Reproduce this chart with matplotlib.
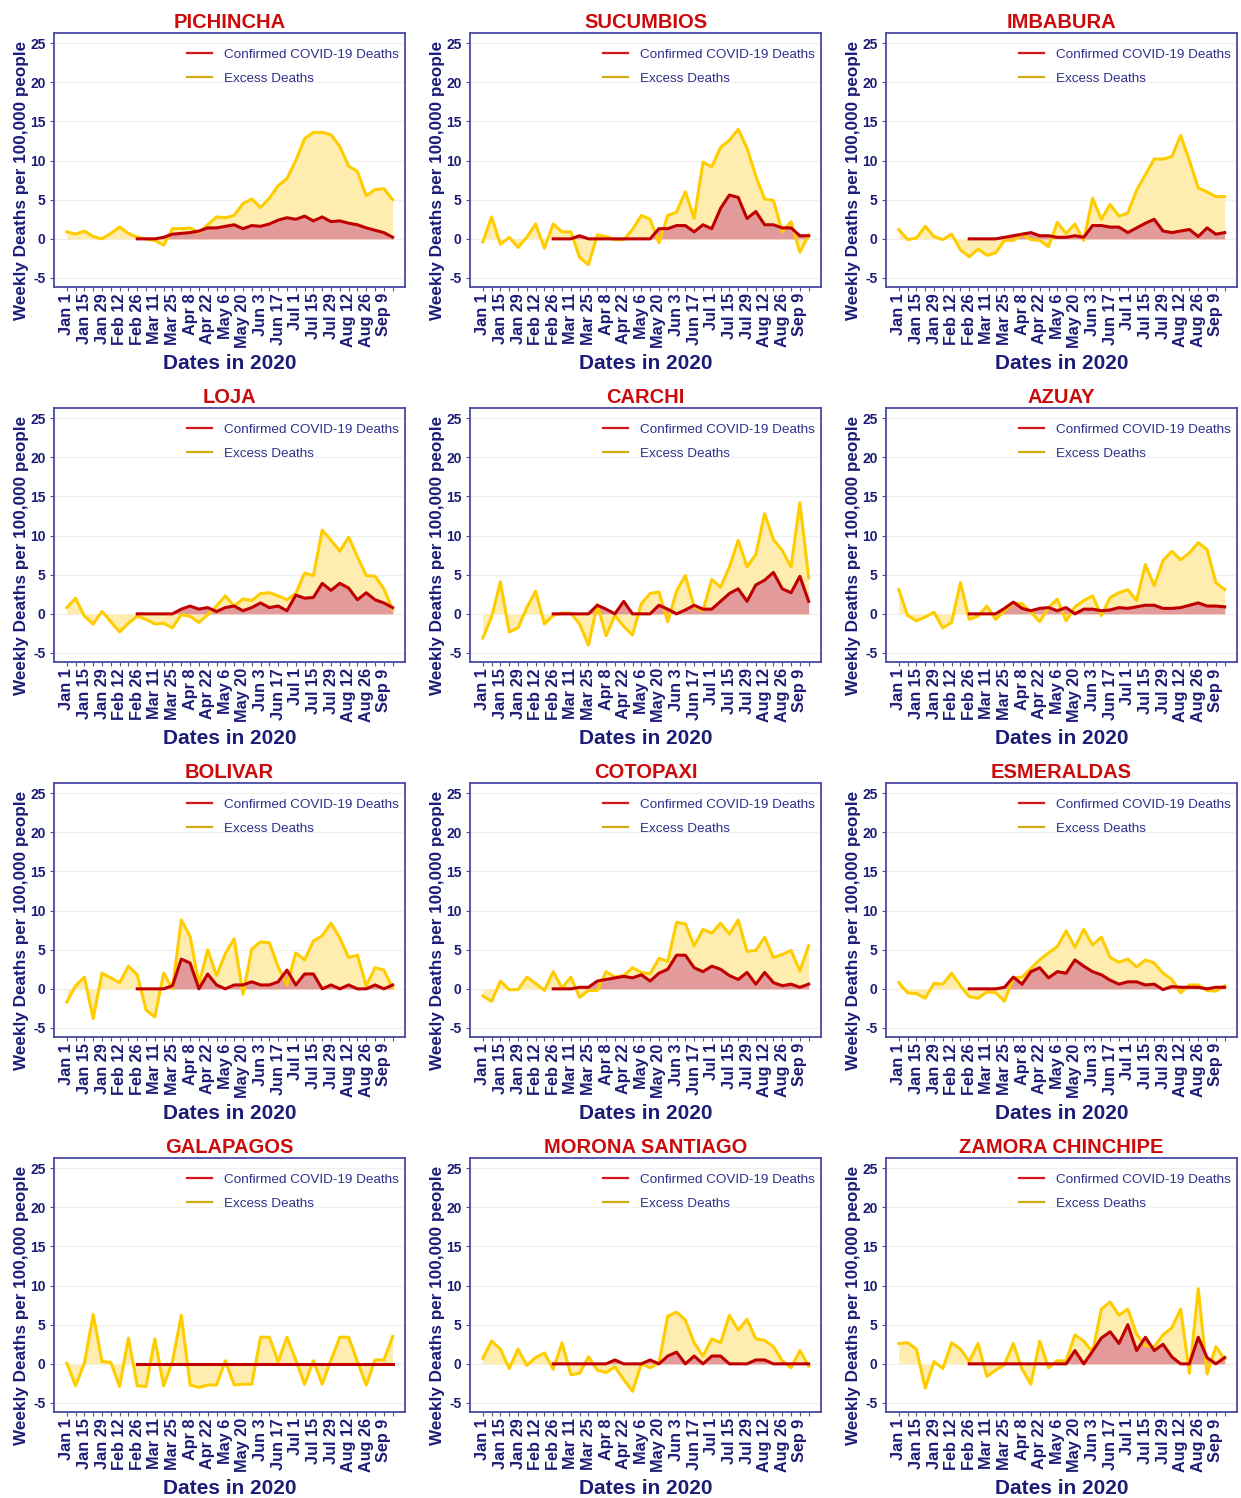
import matplotlib
matplotlib.use("Agg")
import matplotlib.pyplot as plt
from matplotlib.lines import Line2D
import numpy as np

plt.rcParams["font.family"] = ["Liberation Sans", "DejaVu Sans"]

# Weekly x-axis labels (every second week is labelled)
week_labels = ["Jan 1", "Jan 15", "Jan 29", "Feb 12", "Feb 26", "Mar 11", "Mar 25",
               "Apr 8", "Apr 22", "May 6", "May 20", "Jun 3", "Jun 17", "Jul 1",
               "Jul 15", "Jul 29", "Aug 12", "Aug 26", "Sep 9"]
n_weeks = 38          # Jan 1 .. Sep 16, weekly
first_confirmed = 8   # confirmed series starts on Feb 26

provinces = ["PICHINCHA", "SUCUMBIOS", "IMBABURA",
             "LOJA", "CARCHI", "AZUAY",
             "BOLIVAR", "COTOPAXI", "ESMERALDAS",
             "GALAPAGOS", "MORONA SANTIAGO", "ZAMORA CHINCHIPE"]

# Excess deaths per 100,000 (Jan 1 .. Sep 16)
excess_pichincha = [0.9, 0.6, 1.0, 0.3, 0.0, 0.7, 1.5, 0.7, 0.2, 0.0, -0.2, -0.8, 1.3, 1.3,
                    1.4, 0.8, 1.8, 2.8, 2.7, 3.0, 4.5, 5.1, 4.0, 5.2, 6.8, 7.7, 10.0, 12.8,
                    13.6, 13.6, 13.3, 11.8, 9.3, 8.6, 5.5, 6.3, 6.4, 5.0]
excess_sucumbios = [-0.4, 2.8, -0.7, 0.2, -1.1, 0.2, 1.9, -1.2, 1.9, 0.9, 0.9, -2.4, -3.3, 0.5,
                    0.3, -0.1, -0.1, 1.2, 3.0, 2.5, -0.5, 3.0, 3.4, 6.0, 2.6, 9.8, 9.2, 11.7,
                    12.6, 14.0, 11.6, 8.0, 5.1, 4.9, 0.9, 2.2, -1.7, 0.5]
excess_imbabura = [1.2, -0.1, 0.1, 1.6, 0.3, -0.1, 0.6, -1.4, -2.3, -1.3, -2.1, -1.8, -0.2, -0.2,
                   0.6, -0.1, -0.2, -1.0, 2.1, 0.7, 1.9, -0.2, 5.2, 2.5, 4.4, 2.9, 3.3, 6.2,
                   8.2, 10.2, 10.2, 10.5, 13.2, 10.0, 6.5, 6.0, 5.4, 5.4]
excess_loja = [0.8, 2.0, -0.3, -1.3, 0.3, -1.0, -2.3, -1.2, -0.3, -0.7, -1.3, -1.2, -1.8, -0.1,
               -0.3, -1.1, -0.1, 1.0, 2.3, 1.0, 1.9, 1.7, 2.6, 2.7, 2.3, 1.8, 2.6, 5.2,
               4.9, 10.7, 9.4, 8.0, 9.8, 7.3, 4.9, 4.8, 3.2, 0.5]
excess_carchi = [-3.1, -0.4, 4.1, -2.3, -1.8, 0.8, 2.9, -1.3, -0.2, 0.1, 0.1, -1.3, -4.0, 1.2,
                 -2.8, -0.2, -1.6, -2.7, 1.3, 2.6, 2.8, -1.0, 2.9, 4.9, 0.9, 0.4, 4.4, 3.4,
                 6.0, 9.4, 6.0, 7.6, 12.8, 9.5, 8.1, 6.0, 14.2, 4.6]
excess_azuay = [3.1, -0.2, -0.9, -0.4, 0.2, -1.8, -1.1, 4.0, -0.7, -0.3, 1.0, -0.7, 0.4, 1.4,
                1.3, 0.2, -1.0, 0.8, 1.9, -0.9, 0.9, 1.7, 2.3, -0.2, 2.1, 2.7, 3.1, 1.7,
                6.3, 3.6, 6.8, 8.0, 6.9, 7.8, 9.1, 8.2, 4.0, 3.1]
excess_bolivar = [-1.7, 0.4, 1.5, -3.8, 2.0, 1.4, 0.8, 2.9, 1.8, -2.7, -3.6, 2.0, 0.0, 8.8,
                  6.7, 0.6, 5.0, 1.7, 4.5, 6.4, -0.7, 5.1, 6.0, 5.9, 2.8, 0.5, 4.6, 3.7,
                  6.1, 6.8, 8.4, 6.5, 4.0, 4.3, 0.4, 2.7, 2.4, 0.1]
excess_cotopaxi = [-0.9, -1.6, 1.0, -0.1, -0.1, 1.5, 0.7, -0.2, 2.2, 0.1, 1.5, -1.1, -0.2, -0.2,
                   2.2, 1.5, 1.7, 2.7, 2.1, 1.9, 3.9, 3.5, 8.5, 8.3, 5.5, 7.6, 7.1, 8.4,
                   7.0, 8.8, 4.8, 4.9, 6.6, 4.0, 4.4, 4.9, 2.3, 5.5]
excess_esmeraldas = [0.8, -0.5, -0.6, -1.2, 0.7, 0.6, 2.0, 0.4, -1.0, -1.2, -0.4, -0.5, -1.6, 1.4,
                     1.5, 2.6, 3.7, 4.6, 5.4, 7.4, 5.3, 7.6, 5.6, 6.6, 4.0, 3.4, 3.8, 2.8,
                     3.7, 3.3, 2.0, 1.2, -0.5, 0.5, 0.5, -0.2, -0.3, 0.4]
excess_galapagos = [0.1, -2.8, 0.1, 6.3, 0.3, 0.2, -2.9, 3.3, -2.8, -2.9, 3.2, -2.8, 0.3, 6.2,
                    -2.7, -3.0, -2.7, -2.7, 0.4, -2.7, -2.6, -2.6, 3.4, 3.4, 0.3, 3.4, 0.5, -2.6,
                    0.4, -2.6, 0.5, 3.4, 3.4, 0.3, -2.7, 0.5, 0.5, 3.5]
excess_morona = [0.7, 2.9, 1.9, -0.6, 1.9, -0.2, 0.8, 1.4, -0.7, 2.7, -1.4, -1.2, 0.9, -0.8,
                 -1.1, -0.4, -2.0, -3.5, 0.0, -0.5, 0.1, 6.1, 6.6, 5.6, 2.7, 1.0, 3.2, 2.7,
                 6.2, 4.3, 5.7, 3.2, 3.0, 2.2, 0.4, -0.5, 1.7, -0.3]
excess_zamora = [2.6, 2.7, 1.9, -3.1, 0.3, -0.6, 2.7, 1.9, 0.3, 2.6, -1.6, -0.8, -0.1, 2.6,
                 -0.7, -2.6, 2.9, -0.5, 0.4, 0.4, 3.7, 2.9, 1.5, 7.0, 7.9, 6.2, 7.0, 3.8,
                 2.3, 2.2, 3.7, 4.6, 7.0, -1.2, 9.6, -1.3, 2.2, 0.6]

# Confirmed COVID-19 deaths per 100,000 (Feb 26 .. Sep 16)
confirmed_pichincha = [0.0, 0.0, 0.0, 0.2, 0.6, 0.7, 0.8, 1.0, 1.4, 1.4, 1.6, 1.8, 1.3, 1.7, 1.6,
                       1.9, 2.4, 2.7, 2.5, 2.9, 2.3, 2.8, 2.2, 2.3, 2.0, 1.8, 1.4, 1.1, 0.8, 0.2]
confirmed_sucumbios = [0.0, 0.0, 0.0, 0.4, 0.0, 0.0, 0.0, 0.0, 0.0, 0.0, 0.0, 0.0, 1.3, 1.3, 1.7,
                       1.7, 0.9, 1.8, 1.3, 3.9, 5.6, 5.3, 2.6, 3.5, 1.8, 1.8, 1.4, 1.4, 0.4, 0.4]
confirmed_imbabura = [0.0, 0.0, 0.0, 0.0, 0.2, 0.4, 0.6, 0.8, 0.4, 0.4, 0.2, 0.2, 0.4, 0.2, 1.7,
                      1.7, 1.5, 1.5, 0.8, 1.4, 2.0, 2.5, 1.0, 0.8, 1.0, 1.2, 0.3, 1.4, 0.6, 0.8]
confirmed_loja = [0.0, 0.0, 0.0, 0.0, 0.0, 0.6, 1.0, 0.6, 0.8, 0.3, 0.8, 1.0, 0.4, 0.8, 1.4,
                  0.8, 1.0, 0.4, 2.4, 2.0, 2.1, 3.9, 3.0, 3.9, 3.3, 1.8, 2.7, 1.8, 1.4, 0.8]
confirmed_carchi = [0.0, 0.0, 0.0, 0.0, 0.0, 1.1, 0.6, 0.0, 1.6, 0.0, 0.0, 0.0, 1.1, 0.6, 0.0,
                    0.5, 1.1, 0.6, 0.6, 1.6, 2.6, 3.2, 1.6, 3.7, 4.3, 5.3, 3.2, 2.7, 4.8, 1.6]
confirmed_azuay = [0.0, 0.0, 0.0, 0.0, 0.7, 1.5, 0.7, 0.4, 0.7, 0.8, 0.4, 0.8, 0.0, 0.6, 0.6,
                   0.4, 0.5, 0.8, 0.7, 0.9, 1.1, 1.1, 0.7, 0.7, 0.8, 1.1, 1.4, 1.0, 1.0, 0.9]
confirmed_bolivar = [0.0, 0.0, 0.0, 0.0, 0.4, 3.8, 3.3, 0.0, 1.9, 0.5, 0.0, 0.5, 0.5, 0.9, 0.5,
                     0.5, 0.9, 2.4, 0.5, 1.9, 1.9, 0.0, 0.5, 0.0, 0.5, 0.0, 0.0, 0.5, 0.0, 0.5]
confirmed_cotopaxi = [0.0, 0.0, 0.0, 0.2, 0.2, 1.0, 1.2, 1.4, 1.6, 1.4, 1.8, 1.0, 2.0, 2.5, 4.3,
                      4.3, 2.7, 2.2, 2.9, 2.5, 1.7, 1.2, 2.1, 0.6, 2.1, 0.8, 0.4, 0.6, 0.2, 0.6]
confirmed_esmeraldas = [0.0, 0.0, 0.0, 0.0, 0.2, 1.5, 0.6, 2.2, 2.7, 1.4, 2.2, 2.0, 3.7, 2.9, 2.2,
                        1.8, 1.1, 0.6, 0.9, 0.9, 0.5, 0.6, -0.1, 0.3, 0.2, 0.2, 0.2, 0.0, 0.2, 0.2]
confirmed_galapagos = [0.0] * 30
confirmed_morona = [0.0, 0.0, 0.0, 0.0, 0.0, 0.0, 0.0, 0.5, 0.0, 0.0, 0.0, 0.5, 0.0, 1.0, 1.5,
                    0.0, 1.0, 0.0, 1.0, 1.0, 0.0, 0.0, 0.0, 0.5, 0.5, 0.0, 0.0, 0.0, 0.0, 0.0]
confirmed_zamora = [0.0, 0.0, 0.0, 0.0, 0.0, 0.0, 0.0, 0.0, 0.0, 0.0, 0.0, 0.0, 1.7, 0.0, 1.6,
                    3.3, 4.1, 2.6, 5.0, 1.7, 3.4, 1.7, 2.5, 0.9, 0.0, 0.0, 3.4, 0.8, 0.0, 0.8]

series = {
    "PICHINCHA": (excess_pichincha, confirmed_pichincha),
    "SUCUMBIOS": (excess_sucumbios, confirmed_sucumbios),
    "IMBABURA": (excess_imbabura, confirmed_imbabura),
    "LOJA": (excess_loja, confirmed_loja),
    "CARCHI": (excess_carchi, confirmed_carchi),
    "AZUAY": (excess_azuay, confirmed_azuay),
    "BOLIVAR": (excess_bolivar, confirmed_bolivar),
    "COTOPAXI": (excess_cotopaxi, confirmed_cotopaxi),
    "ESMERALDAS": (excess_esmeraldas, confirmed_esmeraldas),
    "GALAPAGOS": (excess_galapagos, confirmed_galapagos),
    "MORONA SANTIAGO": (excess_morona, confirmed_morona),
    "ZAMORA CHINCHIPE": (excess_zamora, confirmed_zamora),
}

# Colours
NAVY = "#1c1c78"
LEGEND_TEXT = "#2f2f8c"
FRAME = "#4a4aa6"
TITLE_RED = "#cc0a0a"
GOLD = "#ffcc00"
GOLD_FILL = "#ffedb0"
DARK_RED = "#c00000"
RED_FILL = "#e39a9a"

W, H = 1241, 1498
fig = plt.figure(figsize=(W / 100, H / 100), dpi=100)

col_left = [54, 470, 886]
row_top = [33, 408, 783, 1158]
ax_w, ax_h = 351, 254

x_all = np.arange(n_weeks)
x_conf = np.arange(first_confirmed, n_weeks)

for k, name in enumerate(provinces):
    r, c = divmod(k, 3)
    left, top = col_left[c], row_top[r]
    ax = fig.add_axes([left / W, 1 - (top + ax_h) / H, ax_w / W, ax_h / H])
    excess, confirmed = series[name]

    ax.fill_between(x_all, 0, excess, color=GOLD_FILL, lw=0, zorder=1)
    ax.fill_between(x_conf, 0, confirmed, color=RED_FILL, lw=0, zorder=2)
    ax.plot(x_all, excess, color=GOLD, lw=2.2, zorder=3, solid_joinstyle="round")
    ax.plot(x_conf, confirmed, color=DARK_RED, lw=2.2, zorder=4, solid_joinstyle="round")

    ax.set_xlim(-1.45, n_weeks - 1 + 1.4)
    ax.set_ylim(-6.15, 26.3)

    ax.set_yticks([-5, 0, 5, 10, 15, 20, 25])
    ax.set_yticklabels(["-5", "0", "5", "10", "15", "20", "25"])
    ax.set_xticks(x_all)
    ax.set_xticklabels([week_labels[i // 2] if i % 2 == 0 else "" for i in x_all],
                       rotation=90)
    ax.yaxis.grid(True, color="#f0f0f0", lw=0.9, zorder=0)
    ax.set_axisbelow(True)

    for lab in ax.get_yticklabels():
        lab.set_fontweight("bold")
        lab.set_fontsize(10)
        lab.set_color(NAVY)
    for lab in ax.get_xticklabels():
        lab.set_fontweight("bold")
        lab.set_fontsize(11.7)
        lab.set_color(NAVY)
    ax.tick_params(axis="both", length=3, width=0.8, color="#555577")
    ax.tick_params(axis="y", pad=3)
    ax.tick_params(axis="x", pad=1.5)

    for sp in ax.spines.values():
        sp.set_color(FRAME)
        sp.set_linewidth(1.3)

    ax.annotate(name, xy=(0.5, 1), xycoords="axes fraction", xytext=(0, 7.6),
                textcoords="offset points", ha="center", va="center",
                fontsize=14.5, fontweight="bold", color=TITLE_RED)
    ax.text(-0.092, 0.421, "Weekly Deaths per 100,000 people", transform=ax.transAxes,
            rotation=90, ha="center", va="center", fontsize=12.3,
            fontweight="bold", color=NAVY)
    ax.text(0.5, -0.302, "Dates in 2020", transform=ax.transAxes,
            ha="center", va="center", fontsize=15, fontweight="bold", color=NAVY)

    handles = [Line2D([], [], color="#d01818", lw=1.6),
               Line2D([], [], color="#d4ac10", lw=1.6)]
    leg = ax.legend(handles, ["Confirmed COVID-19 Deaths", "Excess Deaths"],
                    loc="upper left", bbox_to_anchor=(0.379, 0.94), frameon=False,
                    fontsize=9.7, handlelength=1.86, handletextpad=0.85,
                    labelspacing=0.86, borderpad=0, borderaxespad=0)
    for t in leg.get_texts():
        t.set_color(LEGEND_TEXT)

fig.savefig("out.png", dpi=100, facecolor="white")
